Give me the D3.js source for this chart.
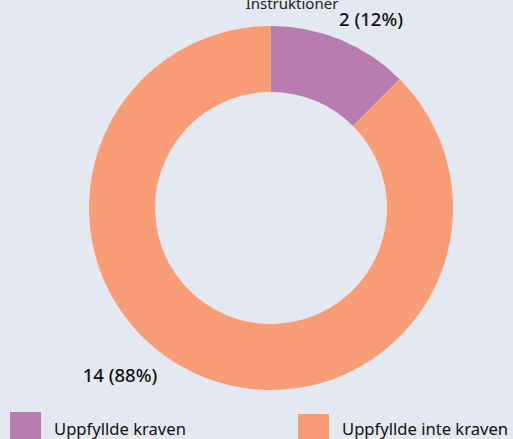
<!DOCTYPE html>
<html><head><meta charset="utf-8">
<script src="https://cdn.jsdelivr.net/npm/d3@7"></script>
<style>
html,body{margin:0;padding:0;background:#e4e8f0;overflow:hidden;}
svg{display:block;font-family:"Noto Sans","Open Sans",sans-serif;}
</style></head>
<body>
<script>
const categories = ["Uppfyllde kraven", "Uppfyllde inte kraven"];
const values = [2, 14];
const percentLabels = ["12%", "88%"];
const colors = ["#b77cb0", "#f99d77"];
const title = "Instruktioner";

const W = 513, H = 439;
const svg = d3.select("body").append("svg").attr("width", W).attr("height", H);
svg.append("rect").attr("width", W).attr("height", H).attr("fill", "#e4e8f0");

const cx = 271, cy = 208, R = 182, r = 116;
const pie = d3.pie().sort(null).value(d => d)(values);
const arc = d3.arc().innerRadius(r).outerRadius(R);
const g = svg.append("g").attr("transform", `translate(${cx},${cy})`);
g.selectAll("path").data(pie).join("path")
  .attr("d", arc).attr("fill", (d, i) => colors[i]);

// title
svg.append("text").attr("x", 292).attr("y", 9).attr("text-anchor", "middle")
  .attr("font-size", 15).attr("fill", "#222").text(title);

// value labels
const labelPos = [[371, 26], [120, 382]];
svg.selectAll("text.val").data(pie).join("text").attr("class", "val")
  .attr("x", (d, i) => labelPos[i][0]).attr("y", (d, i) => labelPos[i][1])
  .attr("text-anchor", "middle").attr("font-size", 18.5).attr("font-weight", 500)
  .attr("fill", "#111")
  .text((d, i) => `${values[i]} (${percentLabels[i]})`);

// legend
const legX = [10, 298];
const legY = [412, 414];
svg.selectAll("rect.leg").data(categories).join("rect").attr("class", "leg")
  .attr("x", (d, i) => legX[i]).attr("y", (d, i) => legY[i])
  .attr("width", 31).attr("height", 31).attr("fill", (d, i) => colors[i]);
svg.selectAll("text.leg").data(categories).join("text").attr("class", "leg")
  .attr("x", (d, i) => legX[i] + 44).attr("y", 435)
  .attr("font-size", 16.6).attr("fill", "#111").text(d => d);
</script>
</body></html>
